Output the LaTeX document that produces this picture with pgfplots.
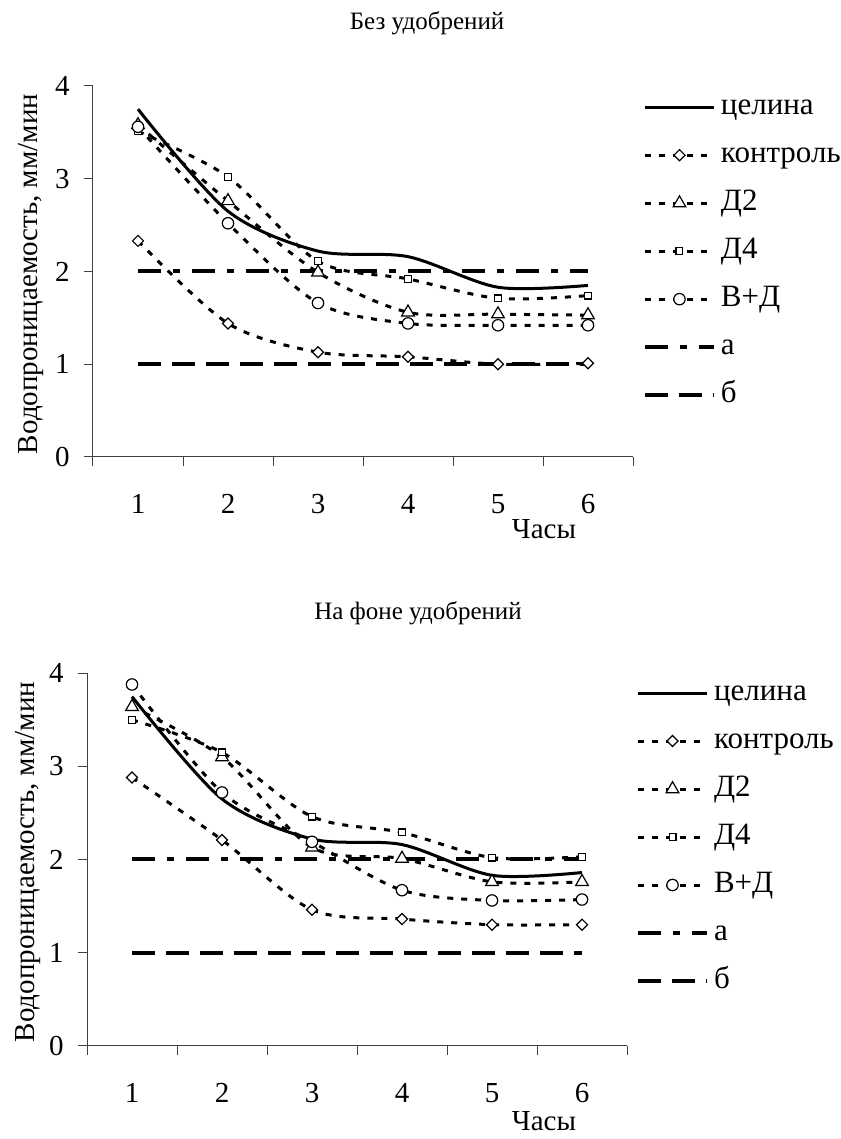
\documentclass[border=0pt]{standalone}
\usepackage{fontspec}
\setmainfont{Liberation Serif}
\newfontfamily\tnr{Liberation Serif}
\usepackage{pgfplots}
\pgfplotsset{compat=1.18}
\usepackage{pgfplotstable}

\pgfplotstableread{
x tse kon d2 d4 vd a b
1 3.75 2.33 3.58 3.51 3.56 2 1
2 2.65 1.44 2.76 3.02 2.52 2 1
3 2.22 1.13 1.99 2.11 1.66 2 1
4 2.16 1.08 1.56 1.92 1.44 2 1
5 1.83 1.00 1.54 1.71 1.42 2 1
6 1.85 1.01 1.53 1.74 1.42 2 1
}\topdata

\pgfplotstableread{
x tse kon d2 d4 vd a b
1 3.75 2.88 3.64 3.50 3.88 2 1
2 2.65 2.21 3.10 3.15 2.72 2 1
3 2.22 1.46 2.13 2.46 2.19 2 1
4 2.16 1.36 2.01 2.29 1.67 2 1
5 1.83 1.30 1.76 2.02 1.56 2 1
6 1.86 1.30 1.76 2.03 1.57 2 1
}\botdata

\pgfplotsset{
  base/.style={
    scale only axis, width=270pt,
    xmin=0.5, xmax=6.5, ymin=0, ymax=4,
    axis x line*=bottom, axis y line*=left,
    axis line style={line width=0.5pt, black!75},
    xtick={1,...,6}, minor xtick={0.5,1.5,...,6.5}, ytick={0,...,4},
    every major x tick/.append style={draw=none},
    tick align=outside, major tick length=4.5pt, minor tick length=4.5pt,
    every tick/.append style={line width=0.5pt, black!75},
    /pgf/number format/assume math mode=true,
    tick label style={font=\tnr\fontsize{14.5}{17}\selectfont},
    xticklabel style={anchor=base, yshift=-24pt},
    yticklabel style={anchor=east, inner sep=0pt, xshift=-7pt},
    legend cell align=left,
    legend image code/.code={\draw[##1, mark repeat=2, mark phase=2] plot coordinates {(0pt,0pt) (17.25pt,0pt) (34.5pt,0pt)};},
    clip=false,
  },
  lg/.style={legend style={at={#1}, anchor=north west, draw=none, fill=none,
    inner sep=0pt, outer sep=0pt, row sep=11pt, font=\tnr\fontsize{15.5}{18}\selectfont,
    nodes={inner sep=0pt, text height=10pt, text depth=3pt},
    /tikz/every odd column/.append style={column sep=2.5pt}}},
  tse/.style={black, line width=1.5pt, smooth, no markers},
  dot/.style={black, line width=1.5pt, dash pattern=on 3pt off 4pt, smooth,
    mark options={solid, fill=white, line width=0.6pt}},
  mkon/.style={dot, mark=square*, mark size=1.95pt, mark options={solid, fill=white, line width=0.6pt, rotate=45}},
  md2/.style={dot, mark=triangle*, mark size=3.65pt},
  md4/.style={dot, mark=square*, mark size=1.7pt},
  mvd/.style={dot, mark=*, mark size=2.85pt},
  la/.style={black, line width=2pt, dash pattern=on 11.5pt off 6pt on 3.5pt off 6pt, no markers},
  lb/.style={black, line width=2pt, dash pattern=on 11.5pt off 5.5pt, no markers},
}

\begin{document}
\begin{tikzpicture}
\useasboundingbox (0,0) rectangle (420pt,569.5pt);

% top panel
\begin{axis}[base, at={(46.5pt,341pt)}, anchor=south west, height=185.5pt, lg={(1.0185,0.978)}]
\addplot[tse] table[x=x,y=tse]{\topdata};
\addlegendentry{целина}
\addplot[mkon] table[x=x,y=kon]{\topdata};
\addlegendentry{контроль}
\addplot[md2] table[x=x,y=d2]{\topdata};
\addlegendentry{Д2}
\addplot[md4] table[x=x,y=d4]{\topdata};
\addlegendentry{Д4}
\addplot[mvd] table[x=x,y=vd]{\topdata};
\addlegendentry{В+Д}
\addplot[la] table[x=x,y=a]{\topdata};
\addlegendentry{а}
\addplot[lb] table[x=x,y=b]{\topdata};
\addlegendentry{б}
\end{axis}

% bottom panel
\begin{axis}[base, at={(43.5pt,46.65pt)}, anchor=south west, height=186.2pt, lg={(1.0167,0.982)}]
\addplot[tse] table[x=x,y=tse]{\botdata};
\addlegendentry{целина}
\addplot[mkon] table[x=x,y=kon]{\botdata};
\addlegendentry{контроль}
\addplot[md2] table[x=x,y=d2]{\botdata};
\addlegendentry{Д2}
\addplot[md4] table[x=x,y=d4]{\botdata};
\addlegendentry{Д4}
\addplot[mvd] table[x=x,y=vd]{\botdata};
\addlegendentry{В+Д}
\addplot[la] table[x=x,y=a]{\botdata};
\addlegendentry{а}
\addplot[lb] table[x=x,y=b]{\botdata};
\addlegendentry{б}
\end{axis}

\node[anchor=base, font=\tnr\fontsize{12.5}{15}\selectfont] at (213.5pt,554.5pt) {Без удобрений};
\node[anchor=base, font=\tnr\fontsize{12.5}{15}\selectfont] at (209pt,259.5pt) {На фоне удобрений};
\node[anchor=base, rotate=90, inner sep=0pt, font=\tnr\fontsize{14.5}{17}\selectfont] at (18.5pt,432.5pt) {Водопроницаемость, мм/мин};
\node[anchor=base, rotate=90, inner sep=0pt, font=\tnr\fontsize{14.5}{17}\selectfont] at (17.5pt,138.5pt) {Водопроницаемость, мм/мин};
\node[anchor=base, inner sep=0pt, font=\tnr\fontsize{14.5}{17}\selectfont] at (272pt,300pt) {Часы};
\node[anchor=base, inner sep=0pt, font=\tnr\fontsize{14.5}{17}\selectfont] at (272pt,4.5pt) {Часы};
\end{tikzpicture}
\end{document}
